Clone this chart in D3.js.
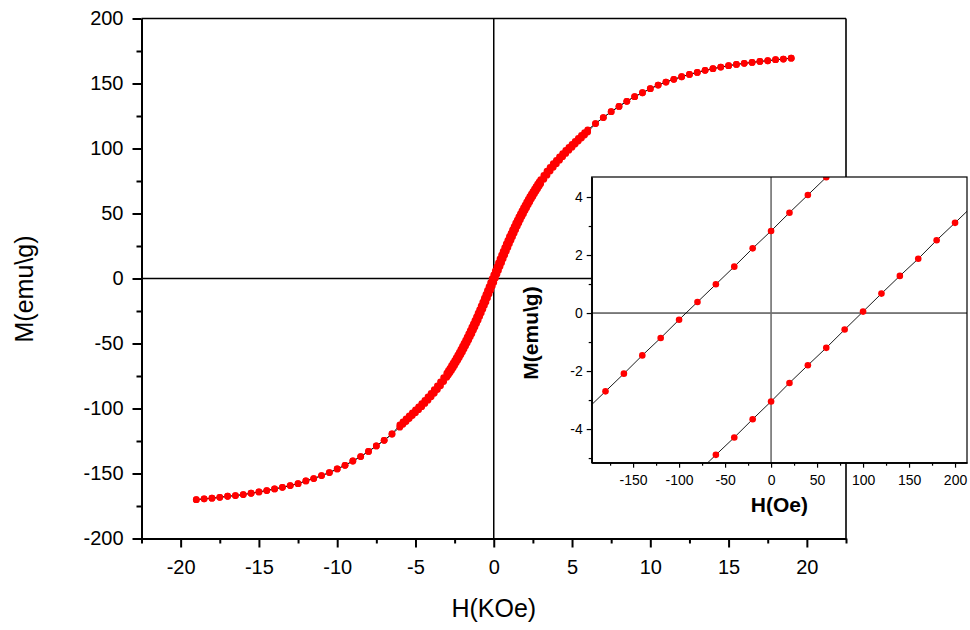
<!DOCTYPE html>
<html>
<head>
<meta charset="utf-8">
<script src="https://cdn.jsdelivr.net/npm/d3@7"></script>
<style>
  body { margin: 0; background: #fff; }
  svg { display: block; }
  text { font-family: "Liberation Sans", Arial, sans-serif; fill: #000; }
</style>
</head>
<body>
<svg id="chart" width="970" height="630"></svg>
<script>
// ---- Hysteresis loop, field in kOe, magnetisation in emu/g ----
// Saturated tails (both sweep directions coincide here)
const hOuterPos = [6.5, 7, 7.5, 8, 8.5, 9, 9.5, 10, 10.5, 11, 11.5, 12, 12.5, 13, 13.5, 14, 14.5, 15, 15.5, 16, 16.5, 17, 17.5, 18, 18.5, 19];
const mOuterPos = [119.2, 123.8, 128.3, 132.4, 136.3, 139.9, 142.9, 146.0, 148.8, 151.1, 153.2, 155.2, 157.0, 158.5, 160.1, 161.4, 162.6, 163.7, 164.7, 165.5, 166.2, 167.0, 167.5, 168.3, 168.8, 169.5];
const hOuterNeg = [-6.5, -7, -7.5, -8, -8.5, -9, -9.5, -10, -10.5, -11, -11.5, -12, -12.5, -13, -13.5, -14, -14.5, -15, -15.5, -16, -16.5, -17, -17.5, -18, -18.5, -19];
const mOuterNeg = [-119.6, -124.5, -128.8, -133.0, -137.0, -140.4, -143.7, -146.5, -149.3, -151.6, -153.9, -155.7, -157.8, -159.3, -160.6, -161.9, -163.1, -164.2, -165.2, -166.2, -167.0, -167.5, -168.3, -169.0, -169.5, -170.1];

// Low-field region, sampled more finely
const hInner = [-6.0, -5.8, -5.6, -5.4, -5.2, -5.0, -4.8, -4.6, -4.4, -4.2, -4.0, -3.8, -3.6, -3.4, -3.2,
  -3.0, -2.9, -2.8, -2.7, -2.6, -2.5, -2.4, -2.3, -2.2, -2.1, -2.0, -1.9, -1.8, -1.7, -1.6, -1.5, -1.4, -1.3, -1.2, -1.1,
  -1.0, -0.9, -0.8, -0.7, -0.6, -0.5, -0.4, -0.3, -0.2, -0.1, 0.0, 0.1, 0.2, 0.3, 0.4, 0.5, 0.6, 0.7, 0.8, 0.9,
  1.0, 1.1, 1.2, 1.3, 1.4, 1.5, 1.6, 1.7, 1.8, 1.9, 2.0, 2.1, 2.2, 2.3, 2.4, 2.5, 2.6, 2.7, 2.8, 2.9, 3.0,
  3.2, 3.4, 3.6, 3.8, 4.0, 4.2, 4.4, 4.6, 4.8, 5.0, 5.2, 5.4, 5.6, 5.8, 6.0];
// Decreasing-field sweep (from +saturation)
const mInnerDesc = [-112.6, -110.4, -108.0, -105.7, -103.4, -101.0, -98.7, -96.2, -93.7, -91.0, -88.3, -85.5, -82.6, -79.5, -76.3,
  -72.8, -70.9, -69.1, -67.1, -65.2, -63.1, -61.1, -58.9, -56.8, -54.5, -52.3, -49.9, -47.6, -45.1, -42.7, -40.1, -37.5, -34.9, -32.2, -29.5,
  -26.7, -23.9, -21.0, -18.1, -15.2, -12.2, -9.2, -6.2, -3.2, -0.2, 2.8, 5.9, 9.0, 12.0, 15.0, 18.0, 20.8, 23.7, 26.6, 29.3,
  32.1, 34.7, 37.4, 39.9, 42.5, 44.9, 47.3, 49.7, 52.0, 54.3, 56.5, 58.7, 60.8, 62.9, 64.9, 66.9, 68.8, 70.7, 72.5, 74.3, 76.0,
  79.3, 82.5, 85.4, 88.3, 90.9, 93.6, 96.1, 98.6, 100.9, 103.2, 105.4, 107.7, 110.0, 112.2, 114.4];
// Increasing-field sweep (from -saturation)
const mInnerAsc = [-114.4, -112.2, -110.0, -107.7, -105.4, -103.2, -100.9, -98.6, -96.1, -93.6, -90.9, -88.3, -85.4, -82.5, -79.3,
  -76.0, -74.3, -72.5, -70.7, -68.8, -66.9, -64.9, -62.9, -60.8, -58.7, -56.5, -54.3, -52.0, -49.7, -47.3, -44.9, -42.5, -39.9, -37.4, -34.7,
  -32.1, -29.3, -26.6, -23.7, -20.8, -18.0, -15.0, -12.0, -9.0, -5.9, -3.0, 0.2, 3.2, 6.2, 9.2, 12.2, 15.2, 18.1, 21.0, 23.9,
  26.7, 29.5, 32.2, 34.9, 37.5, 40.1, 42.7, 45.1, 47.6, 49.9, 52.3, 54.5, 56.8, 58.9, 61.1, 63.1, 65.2, 67.1, 69.1, 70.9, 72.8,
  76.3, 79.5, 82.6, 85.5, 88.3, 91.0, 93.7, 96.2, 98.7, 101.0, 103.4, 105.7, 108.0, 110.4, 112.6];

// Main axis ticks
const xTicksMain = [-20, -15, -10, -5, 0, 5, 10, 15, 20];
const xMinorMain = [-22.5, -17.5, -12.5, -7.5, -2.5, 2.5, 7.5, 12.5, 17.5, 22.5];
const yTicksMain = [-200, -150, -100, -50, 0, 50, 100, 150, 200];
const yMinorMain = [-175, -125, -75, -25, 25, 75, 125, 175];

// ---- Inset: low-field detail, field in Oe ----
const insetHUpper = [-200, -180, -160, -140, -120, -100, -80, -60, -40, -20, 0, 20, 40, 60, 80];
const insetMUpper = [-3.31, -2.70, -2.09, -1.46, -0.86, -0.23, 0.38, 0.99, 1.60, 2.23, 2.83, 3.46, 4.07, 4.68, 5.29];
const insetHLower = [-80, -60, -40, -20, 0, 20, 40, 60, 80, 100, 120, 140, 160, 180, 200, 220];
const insetMLower = [-5.50, -4.89, -4.29, -3.66, -3.05, -2.41, -1.80, -1.20, -0.57, 0.05, 0.67, 1.28, 1.87, 2.51, 3.11, 3.72];
const xTicksInset = [-150, -100, -50, 0, 50, 100, 150, 200];
const xMinorInset = [-175, -125, -75, -25, 25, 75, 125, 175];
const yTicksInset = [-4, -2, 0, 2, 4];
const yMinorInset = [-5, -3, -1, 1, 3];

const svg = d3.select("#chart");
const RED = "#ff0000";
const FONT = '"Liberation Sans", Arial, sans-serif';
const plain = d => String(d);   // hyphen-minus labels, e.g. "-150"

// ---------- main plot ----------
const main = { left: 141.5, right: 846, top: 18.5, bottom: 538.5 };
const x = d3.scaleLinear().domain([-22.5, 22.5]).range([main.left, main.right]);
const y = d3.scaleLinear().domain([-200, 200]).range([main.bottom, main.top]);

const gMain = svg.append("g");

// frame top / right
gMain.append("line").attr("x1", main.left).attr("x2", main.right).attr("y1", main.top).attr("y2", main.top)
  .attr("stroke", "#000").attr("stroke-width", 1.6);
gMain.append("line").attr("x1", main.right).attr("x2", main.right).attr("y1", main.top).attr("y2", main.bottom)
  .attr("stroke", "#000").attr("stroke-width", 1.6);

// zero lines
gMain.append("line").attr("x1", main.left).attr("x2", main.right).attr("y1", y(0)).attr("y2", y(0))
  .attr("stroke", "#000").attr("stroke-width", 1.5);
gMain.append("line").attr("x1", x(0)).attr("x2", x(0)).attr("y1", main.top).attr("y2", main.bottom)
  .attr("stroke", "#000").attr("stroke-width", 1.5);

function styleAxis(g, width) {
  g.select(".domain").attr("stroke", "#000").attr("stroke-width", width);
  g.selectAll(".tick line").attr("stroke", "#000").attr("stroke-width", width);
}

// y axis
const yAx = gMain.append("g").attr("transform", `translate(${main.left},0)`)
  .call(d3.axisLeft(y).tickValues(yTicksMain).tickSize(9).tickSizeOuter(0).tickPadding(9).tickFormat(plain));
styleAxis(yAx, 2);
yAx.selectAll("text").attr("font-size", 20).style("font-family", FONT);
const yAxMinor = gMain.append("g").attr("transform", `translate(${main.left},0)`)
  .call(d3.axisLeft(y).tickValues(yMinorMain).tickSize(5).tickSizeOuter(0).tickFormat(""));
styleAxis(yAxMinor, 2);

// x axis
const xAx = gMain.append("g").attr("transform", `translate(0,${main.bottom})`)
  .call(d3.axisBottom(x).tickValues(xTicksMain).tickSize(9).tickSizeOuter(0).tickPadding(12).tickFormat(plain));
styleAxis(xAx, 2);
xAx.selectAll("text").attr("font-size", 20).style("font-family", FONT);
const xAxMinor = gMain.append("g").attr("transform", `translate(0,${main.bottom})`)
  .call(d3.axisBottom(x).tickValues(xMinorMain).tickSize(5).tickSizeOuter(0).tickFormat(""));
styleAxis(xAxMinor, 2);

// axis titles
gMain.append("text").attr("x", x(0)).attr("y", 617).attr("text-anchor", "middle")
  .attr("font-size", 25).text("H(KOe)");
gMain.append("text").attr("transform", `translate(33,289) rotate(-90)`).attr("text-anchor", "middle")
  .attr("font-size", 25).text("M(emu\\g)");

// sweep branches
const descending = [];
for (let i = hOuterPos.length - 1; i >= 0; i--) descending.push([hOuterPos[i], mOuterPos[i]]);
for (let i = hInner.length - 1; i >= 0; i--) descending.push([hInner[i], mInnerDesc[i]]);
for (let i = 0; i < hOuterNeg.length; i++) descending.push([hOuterNeg[i], mOuterNeg[i]]);
const ascending = [];
for (let i = hOuterNeg.length - 1; i >= 0; i--) ascending.push([hOuterNeg[i], mOuterNeg[i]]);
for (let i = 0; i < hInner.length; i++) ascending.push([hInner[i], mInnerAsc[i]]);
for (let i = 0; i < hOuterPos.length; i++) ascending.push([hOuterPos[i], mOuterPos[i]]);

const lineMain = d3.line().x(d => x(d[0])).y(d => y(d[1]));
[descending, ascending].forEach(branch => {
  gMain.append("path").datum(branch).attr("d", lineMain)
    .attr("fill", "none").attr("stroke", "#000").attr("stroke-width", 0.8);
});
[descending, ascending].forEach(branch => {
  gMain.append("g").selectAll("circle").data(branch).join("circle")
    .attr("cx", d => x(d[0])).attr("cy", d => y(d[1])).attr("r", 3.4).attr("fill", RED);
});

// ---------- inset ----------
const ins = { left: 591.7, right: 967, top: 177, bottom: 462.7 };
const xi = d3.scaleLinear().domain([-195, 213]).range([ins.left, ins.right]);
const yi = d3.scaleLinear().domain([-5.16, 4.69]).range([ins.bottom, ins.top]);

const gIns = svg.append("g");
gIns.append("rect").attr("x", ins.left).attr("y", ins.top)
  .attr("width", ins.right - ins.left).attr("height", ins.bottom - ins.top)
  .attr("fill", "#fff");

svg.append("defs").append("clipPath").attr("id", "insetClip")
  .append("rect").attr("x", ins.left).attr("y", ins.top)
  .attr("width", ins.right - ins.left).attr("height", ins.bottom - ins.top);

// zero lines
gIns.append("line").attr("x1", ins.left).attr("x2", ins.right).attr("y1", yi(0)).attr("y2", yi(0))
  .attr("stroke", "#000").attr("stroke-width", 1);
gIns.append("line").attr("x1", xi(0)).attr("x2", xi(0)).attr("y1", ins.top).attr("y2", ins.bottom)
  .attr("stroke", "#707070").attr("stroke-width", 1.6);

const gInsData = gIns.append("g").attr("clip-path", "url(#insetClip)");
const lineIns = d3.line().x(d => xi(d[0])).y(d => yi(d[1]));
const upper = insetHUpper.map((h, i) => [h, insetMUpper[i]]);
const lower = insetHLower.map((h, i) => [h, insetMLower[i]]);
[upper, lower].forEach(branch => {
  gInsData.append("path").datum(branch).attr("d", lineIns)
    .attr("fill", "none").attr("stroke", "#000").attr("stroke-width", 0.9);
});
[upper, lower].forEach(branch => {
  gInsData.append("g").selectAll("circle").data(branch).join("circle")
    .attr("cx", d => xi(d[0])).attr("cy", d => yi(d[1])).attr("r", 3.3).attr("fill", RED);
});

// inset frame
gIns.append("rect").attr("x", ins.left).attr("y", ins.top)
  .attr("width", ins.right - ins.left).attr("height", ins.bottom - ins.top)
  .attr("fill", "none").attr("stroke", "#000").attr("stroke-width", 1.2);

const yiAx = gIns.append("g").attr("transform", `translate(${ins.left},0)`)
  .call(d3.axisLeft(yi).tickValues(yTicksInset).tickSize(5).tickSizeOuter(0).tickPadding(4).tickFormat(plain));
styleAxis(yiAx, 1.2);
yiAx.selectAll("text").attr("font-size", 14).style("font-family", FONT);
const yiAxMinor = gIns.append("g").attr("transform", `translate(${ins.left},0)`)
  .call(d3.axisLeft(yi).tickValues(yMinorInset).tickSize(3).tickSizeOuter(0).tickFormat(""));
styleAxis(yiAxMinor, 1.2);

const xiAx = gIns.append("g").attr("transform", `translate(0,${ins.bottom})`)
  .call(d3.axisBottom(xi).tickValues(xTicksInset).tickSize(5).tickSizeOuter(0).tickPadding(7).tickFormat(plain));
styleAxis(xiAx, 1.2);
xiAx.selectAll("text").attr("font-size", 14).style("font-family", FONT);
const xiAxMinor = gIns.append("g").attr("transform", `translate(0,${ins.bottom})`)
  .call(d3.axisBottom(xi).tickValues(xMinorInset).tickSize(3).tickSizeOuter(0).tickFormat(""));
styleAxis(xiAxMinor, 1.2);

// inset titles
gIns.append("text").attr("x", (ins.left + ins.right) / 2).attr("y", 511.5).attr("text-anchor", "middle")
  .attr("font-size", 21).attr("font-weight", "bold").text("H(Oe)");
gIns.append("text").attr("transform", `translate(538,333) rotate(-90)`).attr("text-anchor", "middle")
  .attr("font-size", 21).attr("font-weight", "bold").text("M(emu\\g)");
</script>
</body>
</html>
